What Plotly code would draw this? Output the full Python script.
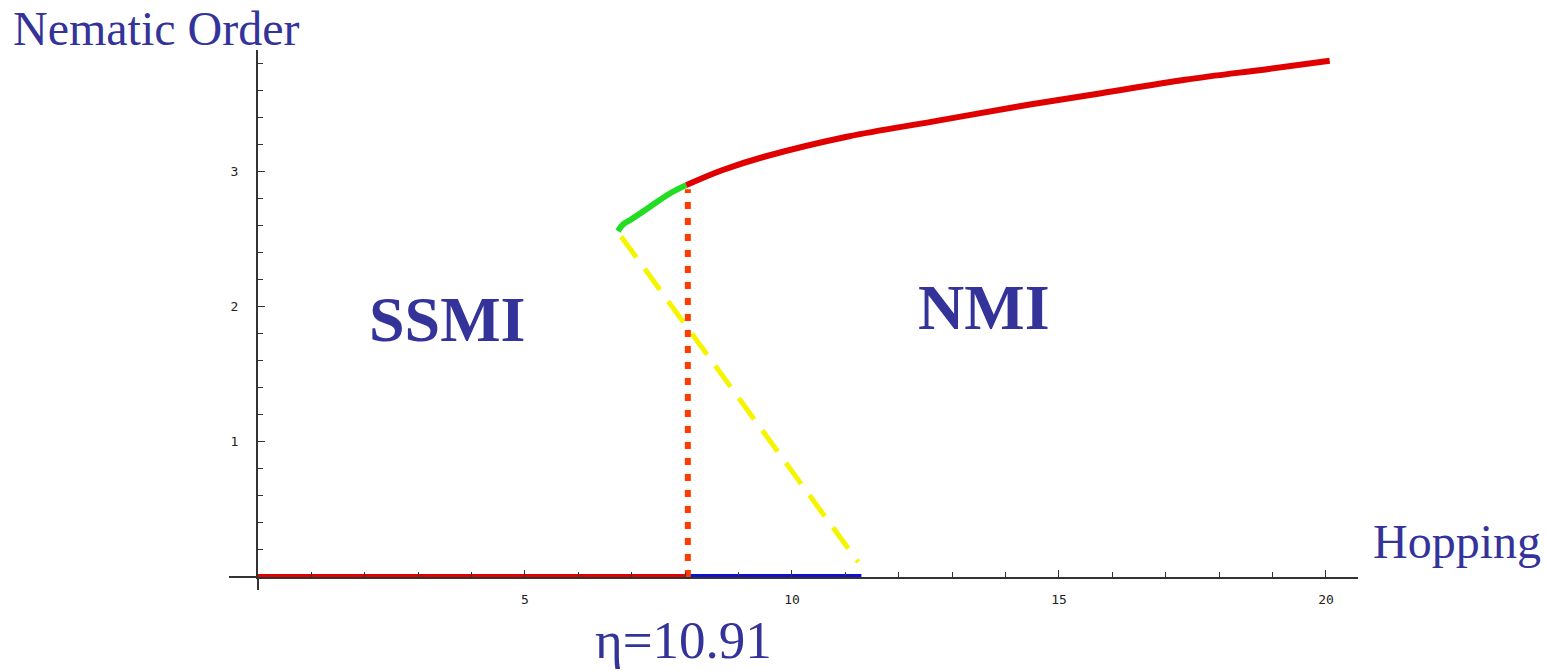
import plotly.graph_objects as go

# ---- data ----
red_upper_x = [8.02, 8.69, 9.48, 11.05, 12.63, 14.21, 15.79, 17.36, 18.93, 20.07]
red_upper_y = [2.90, 3.01, 3.11, 3.26, 3.37, 3.48, 3.58, 3.68, 3.76, 3.82]

green_x = [6.74, 6.84, 7.00, 7.34, 7.72, 8.02]
green_y = [2.56, 2.61, 2.65, 2.74, 2.84, 2.90]

yellow_x = [6.80, 11.24]
yellow_y = [2.52, 0.11]

orange_x = [8.05, 8.05]
orange_y = [0.0, 2.87]

red_lower_x = [0.0, 8.05]
red_lower_y = [0.0, 0.0]

blue_x = [8.05, 11.30]
blue_y = [0.0, 0.0]

x_ticks = [5, 10, 15, 20]
y_ticks = [1, 2, 3]

TXT = "#333399"
SERIF = "Liberation Serif, Times New Roman, serif"

fig = go.Figure()
fig.add_trace(go.Scatter(x=red_lower_x, y=red_lower_y, mode="lines",
                         line=dict(color="#E00000", width=6), cliponaxis=False))
fig.add_trace(go.Scatter(x=blue_x, y=blue_y, mode="lines",
                         line=dict(color="#1010CC", width=6), cliponaxis=False))
fig.add_trace(go.Scatter(x=yellow_x, y=yellow_y, mode="lines",
                         line=dict(color="#F5F500", width=5, dash="26px,14px")))
fig.add_trace(go.Scatter(x=orange_x, y=orange_y, mode="lines",
                         line=dict(color="#FF3C00", width=6, dash="7px,9px"), cliponaxis=False))
fig.add_trace(go.Scatter(x=green_x, y=green_y, mode="lines", line_shape="spline",
                         line=dict(color="#22DD22", width=6)))
fig.add_trace(go.Scatter(x=red_upper_x, y=red_upper_y, mode="lines", line_shape="spline",
                         line=dict(color="#E00000", width=6), cliponaxis=False))

# plot area in page pixels (body margin removed below)
PX0, PX1, PY0, PY1 = 258, 1358, 50, 577
W, H = 1546, 671
L, T = PX0, PY0
R = W - PX1
B = H - PY1
pw, ph = PX1 - PX0, PY1 - PY0

def px(xp):
    return (xp - PX0) / pw

def py(yp):
    return (PY1 - yp) / ph

annos = [
    dict(text="Nematic Order", x=px(156), y=py(28), size=48),
    dict(text="Hopping", x=px(1457), y=py(541), size=48),
    dict(text="<b>SSMI</b>", x=px(447), y=py(319), size=64),
    dict(text="<b>NMI</b>", x=px(984), y=py(307), size=64),
    dict(text="η=10.91", x=px(683), y=py(640), size=53),
]
for a in annos:
    fig.add_annotation(text=a["text"], x=a["x"], y=a["y"], xref="paper", yref="paper",
                       showarrow=False, xanchor="center", yanchor="middle",
                       font=dict(family=SERIF, size=a["size"], color=TXT))

# axis extensions beyond the origin
fig.add_shape(type="line", xref="paper", yref="paper", x0=px(229), x1=0, y0=0, y1=0,
              line=dict(color="#333333", width=2))
fig.add_shape(type="line", xref="paper", yref="paper", x0=0, x1=0, y0=py(590), y1=0,
              line=dict(color="#333333", width=2))

tickfont = dict(family="DejaVu Sans Mono, monospace", size=13, color="#222222")
fig.update_layout(
    width=W, height=H,
    margin=dict(l=L, r=R, t=T, b=B, autoexpand=False),
    paper_bgcolor="white", plot_bgcolor="white",
    showlegend=False,
    xaxis=dict(range=[0, 20.6], showgrid=False, zeroline=False,
               showline=True, linecolor="#333333", linewidth=2,
               tickvals=x_ticks, ticks="inside", ticklen=7, tickcolor="#333333", tickwidth=1,
               ticklabelstandoff=9, tickfont=tickfont,
               minor=dict(dtick=1, tick0=0, ticks="inside", ticklen=5, tickcolor="#333333", showgrid=False)),
    yaxis=dict(range=[0, 3.9], showgrid=False, zeroline=False,
               showline=True, linecolor="#333333", linewidth=2,
               tickvals=y_ticks, ticks="inside", ticklen=7, tickcolor="#333333", tickwidth=1,
               ticklabelstandoff=15, tickfont=tickfont,
               minor=dict(dtick=0.2, tick0=0, ticks="inside", ticklen=5, tickcolor="#333333", showgrid=False)),
)

fig.write_html("out.html", config={"displayModeBar": False},
               post_script="document.body.style.margin='0';document.body.style.overflow='hidden';")
